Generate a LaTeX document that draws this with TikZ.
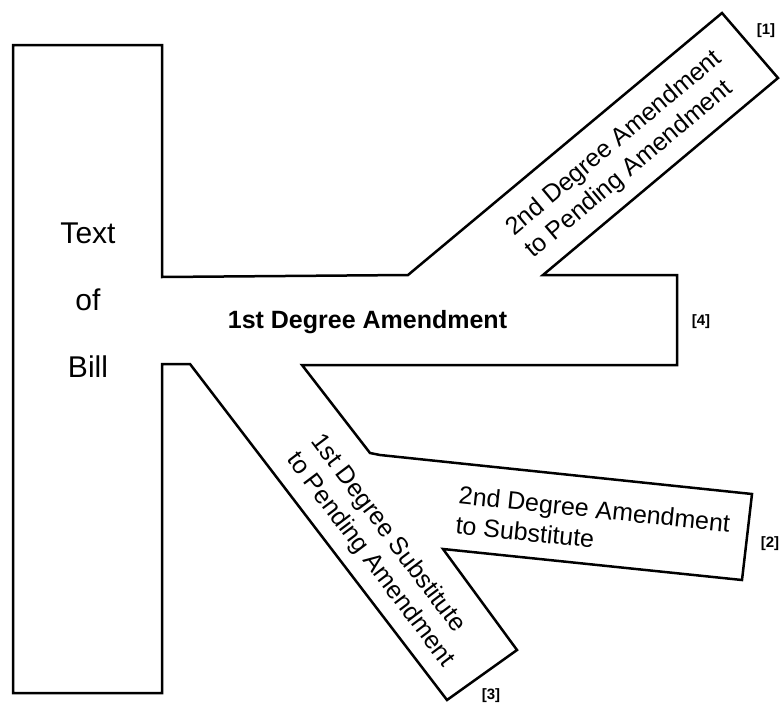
\documentclass[tikz,border=0pt]{standalone}
\usepackage{fontspec}
\setmainfont{Liberation Sans}
\begin{document}
\begin{tikzpicture}[x=1pt,y=-1pt,
  outline/.style={draw=black, line width=2.5pt, line join=miter},
  billtext/.style={font=\fontsize{30}{36}\selectfont, inner sep=0pt, anchor=base},
  armtext/.style={font=\fontsize{25}{30}\selectfont, align=left, inner sep=0pt},
  maintext/.style={font=\bfseries\fontsize{25}{30}\selectfont, inner sep=0pt, anchor=base},
  reftag/.style={font=\bfseries\fontsize{15}{18}\selectfont, inner sep=0pt}]
\useasboundingbox (0,0) rectangle (780,704);
\draw[outline] (13,45) -- (162,45) -- (162,277) -- (408,275) -- (722,13) -- (778,78)
  -- (543,275) -- (677,275) -- (677,365) -- (302,365) -- (370,453) -- (380,455)
  -- (752,494) -- (742,580) -- (443,549) -- (517,650) -- (447,700) -- (190,364)
  -- (162,364) -- (162,693) -- (13,693) -- cycle;
\node[billtext] (t1) at (88,243) {Text};
\node[billtext] (t2) at (88,310) {of};
\node[billtext] (t3) at (88,377) {Bill};
\node[maintext] (main) at (367.5,328) {1st Degree Amendment};
\node[armtext, rotate=40] (arm1) at (624,155) {2nd Degree Amendment\\to Pending Amendment};
\node[armtext, rotate=-6] (arm2) at (593,524) {2nd Degree Amendment\\to Substitute};
\node[armtext, rotate=-53] (arm3) at (382,551) {1st Degree Substitute\\to Pending Amendment};
\node[reftag] (r1) at (766,31) {[1]};
\node[reftag] (r4) at (701,322) {[4]};
\node[reftag] (r2) at (770,544) {[2]};
\node[reftag] (r3) at (491,696) {[3]};
\end{tikzpicture}
\end{document}
